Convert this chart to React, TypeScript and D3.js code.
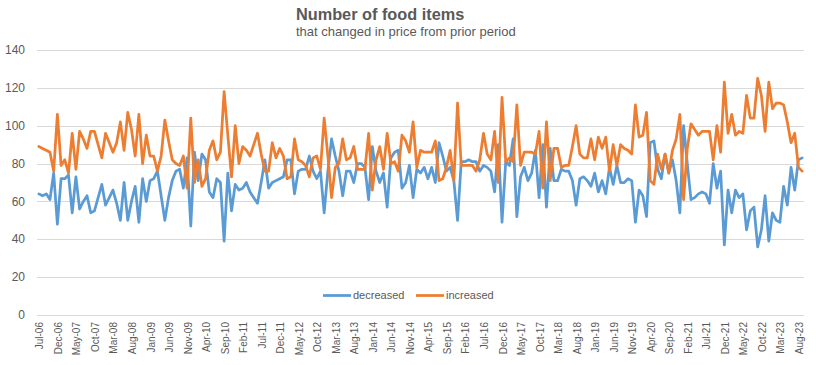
import { useEffect, useRef } from 'react'
import * as d3 from 'd3'

// monthly counts, Jul-06 .. Sep-23
const decreased = [
  64, 63, 64, 61, 75, 48, 72, 72, 74, 54,
  73, 56, 60, 63, 54, 55, 62, 69, 58, 62,
  66, 59, 50, 70, 50, 60, 68, 49, 72, 60,
  71, 72, 76, 63, 50, 62, 71, 76, 77, 67,
  83, 47, 86, 71, 85, 82, 65, 62, 72, 70,
  39, 75, 55, 69, 66, 67, 70, 65, 62, 59,
  70, 82, 67, 70, 71, 72, 73, 82, 82, 64,
  76, 77, 77, 84, 76, 72, 76, 54, 76, 93,
  84, 76, 63, 76, 76, 70, 80, 80, 78, 61,
  89, 76, 70, 75, 57, 83, 86, 87, 67, 70,
  79, 62, 77, 75, 78, 72, 78, 70, 91, 84,
  76, 78, 71, 50, 81, 81, 82, 81, 81, 76,
  79, 78, 76, 65, 90, 49, 81, 79, 93, 52,
  73, 78, 71, 75, 87, 62, 90, 57, 88, 71,
  71, 77, 76, 76, 71, 58, 72, 73, 71, 68,
  75, 65, 71, 64, 78, 69, 79, 70, 70, 72,
  71, 49, 66, 63, 52, 91, 92, 77, 72, 85,
  75, 82, 71, 54, 100, 80, 61, 62, 64, 65,
  64, 59, 80, 67, 76, 37, 66, 54, 66, 62,
  64, 45, 55, 57, 36, 45, 63, 39, 54, 50,
  49, 68, 58, 78, 66, 82, 83,
]

const increased = [
  89, 88, 87, 86, 76, 106, 79, 82, 75, 96,
  77, 97, 93, 88, 97, 97, 90, 83, 96, 91,
  86, 91, 102, 87, 107, 98, 84, 106, 80, 95,
  84, 84, 76, 84, 103, 92, 82, 80, 79, 84,
  67, 104, 70, 82, 68, 72, 87, 92, 82, 86,
  118, 95, 73, 100, 80, 89, 87, 84, 90, 96,
  85, 76, 76, 91, 83, 88, 84, 72, 73, 93,
  82, 81, 79, 73, 83, 84, 77, 104, 84, 62,
  78, 80, 93, 82, 83, 89, 77, 77, 77, 96,
  66, 82, 89, 77, 96, 80, 81, 76, 95, 92,
  86, 102, 78, 87, 86, 86, 86, 92, 71, 72,
  78, 87, 71, 112, 79, 79, 79, 79, 76, 82,
  96, 85, 82, 97, 70, 115, 81, 83, 81, 111,
  79, 86, 86, 86, 85, 97, 67, 102, 71, 88,
  88, 78, 79, 79, 89, 100, 85, 83, 83, 93,
  82, 94, 88, 94, 76, 90, 79, 90, 88, 87,
  85, 111, 94, 95, 107, 71, 69, 85, 77, 85,
  75, 87, 93, 106, 61, 88, 101, 98, 95, 97,
  97, 97, 82, 100, 86, 123, 96, 106, 95, 97,
  96, 116, 104, 104, 125, 116, 97, 123, 109, 112,
  112, 111, 102, 91, 96, 78, 76,
]

const yTicks = [0, 20, 40, 60, 80, 100, 120, 140]
const fmt = d3.timeFormat('%b-%y')
const months = d3.timeMonth.range(new Date(2006, 6, 1), new Date(2023, 9, 1)).map(fmt)
// every 5th month gets a label
const tickLabels = months.filter((_, i) => i % 5 === 0)

const series = [
  { name: 'decreased', values: decreased, color: '#5b9bd5' },
  { name: 'increased', values: increased, color: '#ed7d31' },
]

export default function App() {
  const svgRef = useRef<SVGSVGElement>(null)

  useEffect(() => {
    const width = 816,
      height = 365
    const margin = { top: 50, right: 12, bottom: 50, left: 37 }
    const txt = '#595959'

    const svg = d3.select(svgRef.current).attr('width', width).attr('height', height)
    svg.selectAll('*').remove()

    svg.append('rect').attr('width', width).attr('height', height).attr('fill', '#ffffff')

    const x = d3
      .scaleBand()
      .domain(months)
      .range([margin.left, width - margin.right])
    const y = d3
      .scaleLinear()
      .domain([0, 140])
      .range([height - margin.bottom, margin.top])
    const cx = (m: string) => (x(m) as number) + x.bandwidth() / 2

    // gridlines
    svg
      .append('g')
      .selectAll('line')
      .data(yTicks)
      .join('line')
      .attr('x1', margin.left)
      .attr('x2', width - margin.right)
      .attr('y1', (d) => Math.round(y(d)) + 0.5)
      .attr('y2', (d) => Math.round(y(d)) + 0.5)
      .attr('stroke', '#d9d9d9')
      .attr('stroke-width', 1)

    svg
      .append('g')
      .selectAll('text')
      .data(yTicks)
      .join('text')
      .attr('x', 25)
      .attr('y', (d) => y(d))
      .attr('dy', '0.35em')
      .attr('text-anchor', 'end')
      .attr('font-family', 'Liberation Sans, Arial, sans-serif')
      .attr('font-size', 12)
      .attr('fill', txt)
      .text((d) => d)

    // x labels, rotated
    svg
      .append('g')
      .selectAll('text')
      .data(tickLabels)
      .join('text')
      .attr('transform', (d) => `translate(${cx(d) + 1},${height - margin.bottom + 7}) rotate(-90)`)
      .attr('dy', '0.35em')
      .attr('text-anchor', 'end')
      .attr('font-family', 'Liberation Sans, Arial, sans-serif')
      .attr('font-size', 10)
      .attr('fill', txt)
      .text((d) => d)

    const line = d3
      .line<number>()
      .x((_, i) => cx(months[i]))
      .y((d) => y(d))

    svg
      .append('g')
      .selectAll('path')
      .data(series)
      .join('path')
      .attr('d', (s) => line(s.values))
      .attr('fill', 'none')
      .attr('stroke', (s) => s.color)
      .attr('stroke-width', 2.75)
      .attr('stroke-linejoin', 'round')
      .attr('stroke-linecap', 'round')

    // legend
    const legend = svg
      .append('g')
      .selectAll('g')
      .data(series)
      .join('g')
      .attr('transform', (_, i) => `translate(${323 + i * 93},295.5)`)
    legend
      .append('line')
      .attr('x1', 0)
      .attr('x2', 28)
      .attr('stroke', (s) => s.color)
      .attr('stroke-width', 2.75)
    legend
      .append('text')
      .attr('x', 30)
      .attr('dy', '0.35em')
      .attr('font-family', 'Liberation Sans, Arial, sans-serif')
      .attr('font-size', 11)
      .attr('fill', txt)
      .text((s) => s.name)

    // title
    svg
      .append('text')
      .attr('x', 296)
      .attr('y', 20)
      .attr('font-family', 'Liberation Sans, Arial, sans-serif')
      .attr('font-size', 16.3)
      .attr('font-weight', 'bold')
      .attr('fill', txt)
      .text('Number of food items')
    svg
      .append('text')
      .attr('x', 296)
      .attr('y', 36)
      .attr('font-family', 'Liberation Sans, Arial, sans-serif')
      .attr('font-size', 13)
      .attr('fill', txt)
      .text('that changed in price from prior period')
  }, [])

  return <svg ref={svgRef} style={{ position: 'absolute', left: 0, top: 0, display: 'block' }} />
}
